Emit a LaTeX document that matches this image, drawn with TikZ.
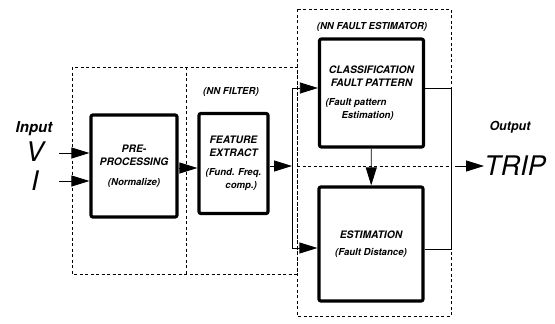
\documentclass[tikz,border=0pt]{standalone}
\usepackage{fontspec}
\setmainfont{TeX Gyre Heros}
\usetikzlibrary{arrows.meta}

\begin{document}
\begin{tikzpicture}[x=1pt, y=-1pt, line width=0.8pt,
  font=\bfseries\itshape\fontsize{10.3}{13.5}\selectfont]
\tikzset{
  blockbox/.style={draw, line width=3.2pt, rounded corners=2pt, fill=white, align=center, inner sep=2pt},
  zone/.style={draw, dash pattern=on 3pt off 2.5pt, line width=0.6pt},
  flow/.style={-{Triangle[length=18pt,width=11pt]}},
  tag/.style={font=\bfseries\itshape\fontsize{9.6}{11}\selectfont},
  sig/.style={font=\itshape\fontsize{27}{27}\selectfont, inner sep=0pt}
}
\newcommand{\sub}{\fontsize{9.6}{11.5}\selectfont}
\useasboundingbox (0,0) rectangle (555,324);

% dashed zones: pre-processing, NN filter, NN fault estimator
\draw[zone] (72,67) rectangle (297,274);
\draw[zone] (186,67) -- (186,274);
\draw[zone] (297,9) rectangle (451,316);
\draw[zone] (297,166) -- (451,166);

\node[tag] (filt) at (231,92) {(NN FILTER)};
\node[tag] (nnfe) at (372,27) {(NN FAULT ESTIMATOR)};

% blocks
\node[blockbox, minimum width=86pt, minimum height=102pt] (pre) at (134,166)
  {PRE-\\PROCESSING\\[6pt]{\sub(Normalize)}};
\node[blockbox, minimum width=69pt, minimum height=100pt] (feat) at (233.5,163.5)
  {FEATURE\\EXTRACT\\[5pt]{\sub(Fund. Freq.}\\{\sub\hspace*{1.6em}comp.)}};
\node[blockbox, minimum width=104pt, minimum height=108pt] (cls) at (371.5,93)
  {CLASSIFICATION\\FAULT PATTERN\\[5pt]{\sub\makebox[92pt][l]{(Fault pattern}}\\
   {\sub\makebox[92pt][l]{\hspace{16pt}Estimation)}}};
\node[blockbox, minimum width=104pt, minimum height=114pt] (est) at (371,244)
  {ESTIMATION\\[4pt]{\sub(Fault Distance)}};

% inputs
\node[font=\bfseries\itshape\fontsize{15}{15}\selectfont] (inp) at (34,129) {Input};
\node[sig] (vin) at (35,152) {V};
\node[sig] (iin) at (35,181) {I};
\draw[flow] ([xshift=15pt]vin.east |- 0,153) -- (pre.west |- 0,153);
\draw[flow] ([xshift=15pt]vin.east |- 0,181) -- (pre.west |- 0,181);

% filter chain and split
\coordinate (split) at (292,166);
\coordinate (b1) at (292,88);
\coordinate (b2) at (292,248);
\draw[flow] (pre.east |- 0,168) -- (feat.west |- 0,168);
\draw[flow] (feat.east |- split) -- (split);
\draw (b1) -- (b2);
\draw[flow] (b1) -- (b1 -| cls.west);
\draw[flow] (b2) -- (b2 -| est.west);
\draw[flow] (cls) -- (est);

% output
\coordinate (o1) at (451,88);
\coordinate (o2) at (451,249);
\coordinate (om) at (451,166);
\draw (o1 -| cls.east) -- (o1) -- (o2) -- (o2 -| est.east);
\node[font=\bfseries\itshape\fontsize{12.5}{12.5}\selectfont] (outp) at (510,127) {Output};
\node[sig, anchor=west] (trip) at (484,166) {TRIP};
\draw[flow] ([xshift=4pt]om) -- (trip.west);
\end{tikzpicture}
\end{document}
